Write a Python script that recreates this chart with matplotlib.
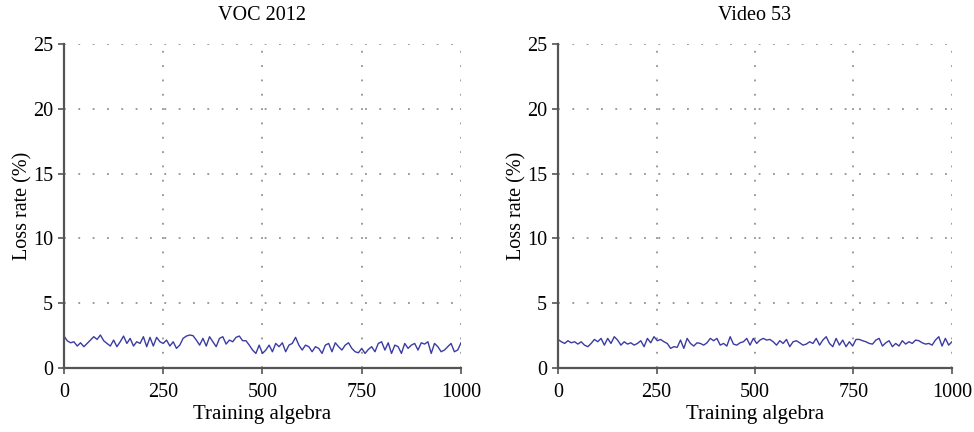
import numpy as np
import matplotlib
matplotlib.use('Agg')
from matplotlib import pyplot as plt

plt.rcParams['font.family'] = ['Liberation Serif', 'DejaVu Serif']

titles = ['VOC 2012', 'Video 53']

# loss rate, iterations 0..1000
voc_loss = [
    2.47, 2.10, 1.95, 2.03, 1.70, 1.95, 1.65, 1.90, 2.16, 2.42, 2.21, 2.55, 2.11, 1.90, 1.70,
    2.16, 1.65, 2.03, 2.47, 1.90, 2.29, 1.70, 2.03, 1.90, 2.42, 1.65, 2.37, 1.70, 2.37, 2.03,
    1.90, 2.16, 1.70, 2.03, 1.52, 1.77, 2.29, 2.47, 2.55, 2.50, 2.16, 1.77, 2.29, 1.70, 2.42,
    2.03, 1.65, 2.29, 2.42, 1.85, 2.16, 2.03, 2.37, 2.47, 2.11, 2.11, 1.77, 1.39, 1.13, 1.77,
    1.13, 1.39, 1.77, 1.26, 1.90, 1.65, 1.95, 1.26, 1.77, 1.90, 2.37, 1.77, 1.39, 1.77, 1.65,
    1.26, 1.65, 1.52, 1.13, 1.77, 1.90, 1.26, 1.95, 1.65, 1.39, 1.77, 1.95, 1.52, 1.26, 1.18,
    1.52, 1.13, 1.44, 1.65, 1.26, 1.90, 2.03, 1.39, 1.95, 1.13, 1.77, 1.65, 1.13, 1.90, 1.52,
    1.77, 1.90, 1.39, 1.95, 1.85, 2.03, 1.13, 1.90, 1.65, 1.26, 1.39, 1.65, 1.90, 1.26, 1.39,
    1.95,
]
video_loss = [
    2.21, 2.03, 1.90, 2.11, 1.95, 2.03, 1.85, 2.03, 1.77, 1.65, 1.90, 2.21, 2.03, 2.29, 1.77,
    2.29, 1.90, 2.42, 2.16, 1.77, 2.03, 1.85, 1.95, 1.77, 1.90, 2.11, 1.65, 2.29, 1.95, 2.42,
    2.11, 2.21, 2.03, 1.90, 1.52, 1.65, 1.60, 2.16, 1.52, 2.29, 1.90, 1.70, 1.95, 1.90, 1.77,
    1.95, 2.29, 2.11, 2.29, 1.77, 1.90, 1.70, 2.42, 1.85, 1.77, 1.95, 2.03, 2.29, 1.77, 2.29,
    1.90,
    2.16, 2.29, 2.16, 2.21, 2.03, 1.77, 2.11, 1.90, 2.21, 1.65, 2.03, 2.11, 1.95, 1.77, 1.85,
    2.03, 1.90, 2.29, 1.77, 2.16, 2.42, 1.90, 1.65, 2.29, 1.77, 2.16, 1.65, 2.03, 1.70, 2.21,
    2.21, 2.11, 2.03, 1.90, 1.85, 2.16, 2.29, 1.70, 1.95, 2.11, 1.65, 1.90, 1.70, 2.11, 1.85,
    2.03, 1.90, 2.16, 2.11, 1.95, 1.85, 1.90, 1.77, 2.16, 2.42, 1.70, 2.29, 1.77, 2.03,
]
series = [voc_loss, video_loss]

xticks = [0, 250, 500, 750, 1000]
yticks = [0, 5, 10, 15, 20, 25]

fig = plt.figure(figsize=(9.74, 4.32), dpi=100)
boxes = [[0.0657, 0.148, 0.4076, 0.75], [0.5729, 0.148, 0.4045, 0.75]]
spine_c = '#555555'

for box, title, loss in zip(boxes, titles, series):
    ax = fig.add_axes(box)
    x = np.linspace(0, 1000, len(loss))
    ax.plot(x, loss, color='#3b3ba3', lw=1.0)
    ax.set_xlim(0, 1000)
    ax.set_ylim(0, 25)
    ax.set_xticks(xticks)
    ax.set_yticks(yticks)
    ax.grid(True, color='#8a8a8a', linestyle=(0, (1.1, 7.5)), lw=1.2)
    for s in ['top', 'right']:
        ax.spines[s].set_visible(False)
    for s in ['left', 'bottom']:
        ax.spines[s].set_color(spine_c)
        ax.spines[s].set_linewidth(1.6)
    ax.tick_params(direction='out', length=4, width=1.2, color=spine_c, labelsize=14.5)
    ax.tick_params(axis='x', pad=7)
    ax.tick_params(axis='y', pad=4)
    ax.set_title(title, fontsize=14.5, pad=17)
    ax.set_xlabel('Training algebra', fontsize=15, labelpad=2)
    ax.set_ylabel('Loss rate (%)', fontsize=14.5, labelpad=0)

fig.savefig('out.png', dpi=100)
